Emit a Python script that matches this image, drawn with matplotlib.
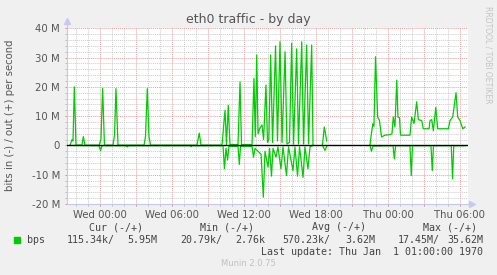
import numpy as np
import matplotlib
matplotlib.use('Agg')
import matplotlib.pyplot as plt
from matplotlib.patches import Rectangle

nan = float('nan')

# time in hours after Wed 00:00, traffic in Mbit/s
out_hours = [-2.50, -2.33, -2.25, -2.14, -2.00, -1.75, -1.50, -1.39, -1.25,
             -0.08, 0.08, 0.22, 0.37, 1.08, 1.21, 1.33, 1.50, 1.67,
             3.67, 3.79, 3.94, 4.08, 4.21, 8.08, 8.27, 8.42,
             10.17, 10.33, 10.42, 10.54, 10.69, 10.83, 11.50, 11.67, 11.79,
             12.67, 12.83, 12.94, 13.06, 13.17, 13.33, 13.50, 13.63, 13.83,
             13.96, 14.07, 14.22, 14.38, 14.63, 14.79, 15.00, 15.17, 15.42,
             15.58, 15.79, 15.97, 16.13, 16.39, 16.54, 16.81, 16.96, 17.22,
             17.38, 17.64, 17.75, nan,
             18.54, 18.69, 18.79, 18.89, nan,
             22.50, 22.73, 22.83, 22.96, 23.14, 23.29, 23.46, 23.75, 24.17,
             24.33, 24.44, 24.58, 24.73, 24.83, 24.96, 25.04, 25.83, 25.97,
             26.17, 26.39, 26.53, 26.81, 26.94, 27.42, 27.50, 27.64, 27.78,
             27.98, 28.14, 29.03, 29.17, 29.39, 29.67, 29.81, 30.00, 30.23,
             30.42]
out_mbps = [0.0, 2.0, 1.5, 20.0, 0.2, 0.1, 0.2, 3.0, 0.1,
            0.1, 2.0, 19.5, 0.1, 0.1, 3.5, 19.4, 0.2, 0.1,
            0.1, 3.0, 19.4, 3.0, 0.1, 0.1, 4.2, 0.1,
            0.1, 8.0, 12.0, 0.3, 13.7, 0.3, 0.3, 21.7, 0.3,
            0.3, 22.9, 3.0, 30.9, 4.0, 6.0, 7.0, 2.0, 20.6,
            1.0, 2.0, 30.9, 1.0, 34.0, 1.5, 35.4, 1.0, 32.0,
            0.5, 1.0, 34.9, 0.5, 33.0, 0.5, 35.4, 0.5, 34.3,
            0.5, 34.3, 0.3, nan,
            0.3, 6.3, 4.0, 1.5, nan,
            0.3, 7.4, 6.5, 30.3, 9.7, 8.5, 2.9, 3.5, 3.7,
            4.0, 9.7, 6.3, 22.3, 9.7, 9.5, 3.5, 3.5, 9.7,
            7.5, 14.9, 8.8, 8.5, 5.7, 5.7, 8.5, 8.8, 5.0,
            13.0, 5.7, 5.7, 8.5, 9.7, 18.0, 9.7, 8.5, 5.7,
            6.3]
in_hours = [-2.50, -0.08, 0.04, 0.17, 2.17, 2.27, 2.38, 7.50, 7.58, 7.67,
            10.25, 10.37, 10.50, 10.63, 10.75, 11.50, 11.61, 11.71,
            12.67, 12.79, 12.92, 13.17, 13.42, 13.61, 13.75, 14.00, 14.13,
            14.29, 14.42, 14.67, 14.83, 15.08, 15.25, 15.54, 15.71, 16.08,
            16.25, 16.46, 16.63, 16.92, 17.08, 17.33, 17.50, 17.75, nan,
            18.54, 18.75, 18.89, nan,
            22.50, 22.62, 22.75, 24.42, 24.53, 24.63, 25.83, 25.94, 26.04,
            27.58, 27.69, 27.79, 29.27, 29.38, 29.48, 30.42]
in_mbps = [0.0, 0.1, 1.7, 0.1, 0.1, 0.5, 0.1, 0.1, 0.4, 0.1,
           0.1, 8.0, 1.0, 5.0, 0.3, 0.3, 6.5, 0.3,
           0.3, 4.0, 1.0, 2.0, 3.0, 17.7, 2.0, 7.4, 1.0,
           10.5, 1.0, 4.0, 0.5, 8.0, 0.5, 10.3, 0.5, 8.6,
           0.5, 10.5, 0.5, 10.9, 0.5, 8.0, 0.5, 0.0, nan,
           0.0, 1.7, 0.3, nan,
           0.0, 2.0, 0.2, 0.1, 4.6, 0.1, 0.1, 10.3, 0.1,
           0.1, 8.6, 0.1, 0.1, 11.4, 0.1, 0.1]

label_hours = [0, 6, 12, 18, 24, 30]
label_names = ['Wed 00:00', 'Wed 06:00', 'Wed 12:00', 'Wed 18:00',
               'Thu 00:00', 'Thu 06:00']
y_values = [-20, -10, 0, 10, 20, 30, 40]
y_names = ['-20 M', '-10 M', '0', '10 M', '20 M', '30 M', '40 M']

headers = ['Cur (-/+)', 'Min (-/+)', 'Avg (-/+)', 'Max (-/+)']
stats_in = ['115.34k/', '20.79k/', '570.23k/', '17.45M/']
stats_out = ['5.95M', '2.76k', '3.62M', '35.62M']

W, H = 497, 275
green = '#00CC00'
txt = '#444444'

fig = plt.figure(figsize=(W / 100, H / 100), dpi=100, facecolor='#F0F0F0')
ax = fig.add_axes([66.5 / W, 1 - 204 / H, 401.5 / W, 175.7 / H])
ax.set_facecolor('white')
ax.set_xlim((66.5 - 100) / 12, (468 - 100) / 12)
ax.set_ylim(-20, 40)

ax.set_xticks(np.arange(0, 31, 3))
ax.set_xticklabels([label_names[label_hours.index(h)] if h in label_hours else ''
                    for h in range(0, 31, 3)])
ax.set_xticks(np.arange(-2, 31, 1), minor=True)
ax.set_yticks(y_values)
ax.set_yticklabels(y_names)
ax.set_yticks(np.arange(-20, 41, 2), minor=True)

dots = (0, (1, 1))
ax.grid(which='minor', color='#CCCCCC', ls=dots, lw=0.7)
ax.grid(which='major', color='#E6A0A0', ls=dots, lw=0.7)
ax.set_axisbelow(True)

for s in ['top', 'right']:
    ax.spines[s].set_visible(False)
for s in ['left', 'bottom']:
    ax.spines[s].set_color('#C8C8E8')
    ax.spines[s].set_linewidth(0.8)

ax.tick_params(which='both', length=1.5, width=0.7, color='#D09090',
               labelsize=7.3, labelcolor='#555555')
ax.tick_params(axis='y', which='major', pad=3.2)
ax.tick_params(axis='x', which='major', pad=2.5)
ax.tick_params(which='minor', color='#BBBBBB')

ax.plot(out_hours, out_mbps, color=green, lw=0.9, zorder=3)
ax.plot(in_hours, [-v for v in in_mbps], color=green, lw=0.9, zorder=3)
ax.axhline(0, color='black', lw=1.0, zorder=4)

# axis arrows
xl = ax.get_xlim()
ax.plot([xl[0], xl[0]], [40, 42.3], color='#C8C8E8', lw=0.8, clip_on=False)
ax.plot([xl[0]], [42.6], marker='^', ms=4, color='#C8C8F4', clip_on=False)
ax.plot([xl[1], xl[1] + 0.3], [-20, -20], color='#C8C8E8', lw=0.8, clip_on=False)
ax.plot([xl[1] + 0.35], [-20], marker='>', ms=4, color='#C8C8F4', clip_on=False)


def put(x, y, s, **kw):
    fig.text(x / W, 1 - y / H, s, va='center', **kw)


put(248, 19, 'eth0 traffic - by day', ha='center', fontsize=9, color='#555555')
put(10, 115, 'bits in (-) / out (+) per second', ha='center', rotation=90,
    fontsize=7.3, color='#555555')
put(488, 55, 'RRDTOOL / TOBI OETIKER', ha='center', rotation=-90,
    fontsize=5.5, color='#C4C4C4')

mono = dict(family='DejaVu Sans Mono', fontsize=7.2, color=txt)
head_x = [89.3, 200, 311.7, 422.7]
in_x = [66.7, 180.7, 282.7, 397.3]
out_end = [157.7, 265.7, 375, 483.3]
for i in range(4):
    put(head_x[i], 227.5, headers[i], ha='left', **mono)
    put(in_x[i], 240, stats_in[i], ha='left', **mono)
    put(out_end[i], 240, stats_out[i], ha='right', **mono)
put(26.7, 240, 'bps', ha='left', **mono)
put(483.3, 251.7, 'Last update: Thu Jan  1 01:00:00 1970', ha='right', **mono)
fig.add_artist(Rectangle((14 / W, 1 - 242.5 / H), 5.5 / W, 5.5 / H,
                         transform=fig.transFigure, color=green))
put(248.5, 263.3, 'Munin 2.0.75', ha='center', fontsize=6, color='#C0C0C0')

fig.savefig('out.png', dpi=100, facecolor=fig.get_facecolor())
